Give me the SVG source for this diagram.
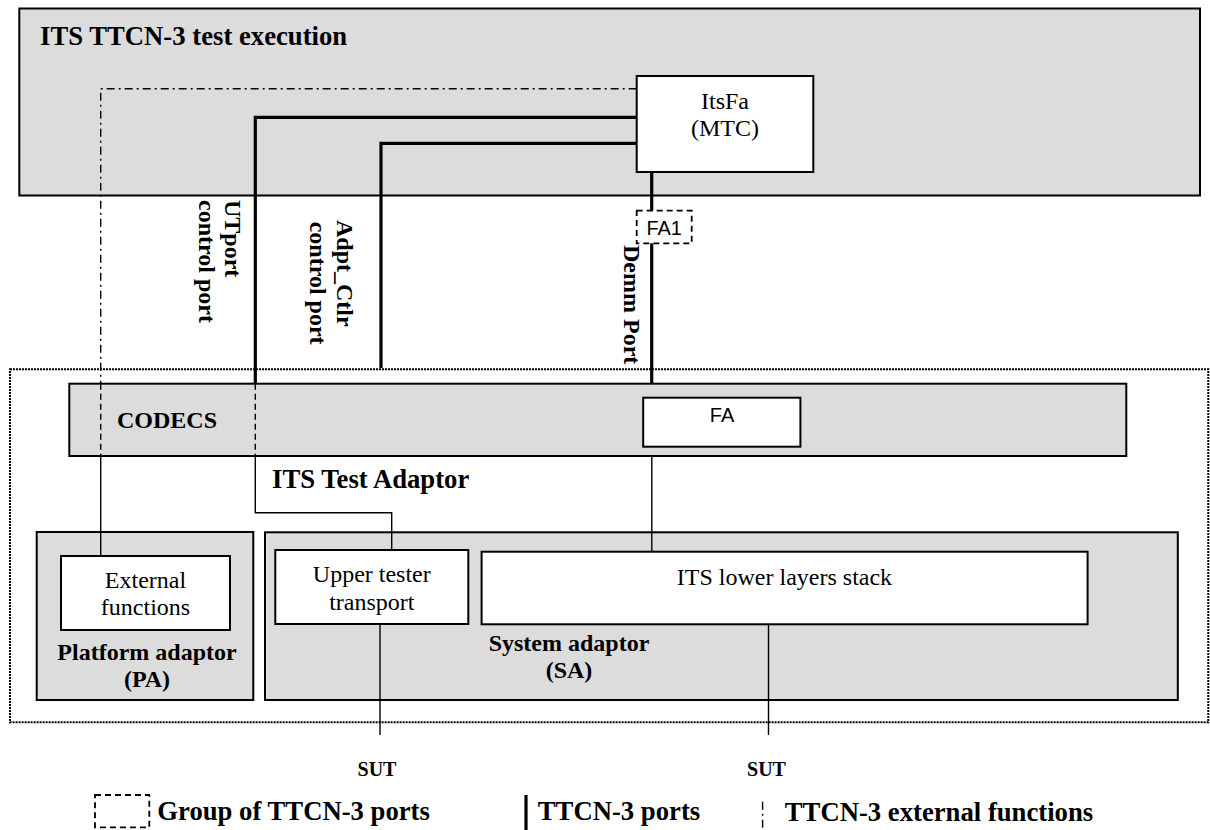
<svg xmlns="http://www.w3.org/2000/svg" width="1210" height="830" viewBox="0 0 1210 830">
<style>
.gray{fill:#dcdcdc;stroke:#000;stroke-width:2}
.white{fill:#fff;stroke:#000;stroke-width:2}
.dotted{fill:none;stroke:#000;stroke-width:2;stroke-dasharray:2 1}
.grp{fill:#fff;stroke:#000;stroke-width:1.8;stroke-dasharray:6 4}
.thick{fill:none;stroke:#000;stroke-width:3.2}
.thin{fill:none;stroke:#000;stroke-width:1.4}
.dashed{fill:none;stroke:#000;stroke-width:1.4;stroke-dasharray:6 4}
.dashdot{fill:none;stroke:#000;stroke-width:1.4;stroke-dasharray:8 4 2 4}
.serif{font-family:"Liberation Serif","Times New Roman",serif;fill:#000}
.b{font-weight:bold}
.h{font-size:26.7px}
.m{font-size:24px}
.sans{font-family:"Liberation Sans",Arial,sans-serif;font-size:20px;fill:#000}
</style>
<rect width="1210" height="830" fill="#fff"/>
<g id="test-execution">
<rect class="gray" x="19.3" y="8.5" width="1180.7" height="187"/>
<text class="serif b h" x="40" y="45">ITS TTCN-3 test execution</text>
</g>
<g id="itsfa">
<rect class="white" x="636.7" y="76" width="176.6" height="96"/>
<text class="serif m" x="725" y="109.3" text-anchor="middle">ItsFa</text>
<text class="serif m" x="725" y="136" text-anchor="middle">(MTC)</text>
</g>
<g id="test-adaptor">
<rect class="dotted" x="10" y="369.3" width="1198.3" height="353"/>
<text class="serif b h" x="272" y="487.7">ITS Test Adaptor</text>
</g>
<g id="codecs">
<rect class="gray" x="69.3" y="383.7" width="1057" height="72.3"/>
<text class="serif b m" x="117" y="428.3">CODECS</text>
</g>
<g id="fa">
<rect class="white" x="643.2" y="397.7" width="157.2" height="49"/>
<text class="sans" x="722" y="421.7" text-anchor="middle">FA</text>
</g>
<g id="platform-adaptor">
<rect class="gray" x="36.7" y="532" width="216.6" height="168"/>
<text class="serif b m" x="147" y="659.5" text-anchor="middle">Platform adaptor</text>
<text class="serif b m" x="147" y="687" text-anchor="middle">(PA)</text>
</g>
<g id="external-functions">
<rect class="white" x="61" y="556" width="169" height="74"/>
<text class="serif m" x="145.5" y="588.3" text-anchor="middle">External</text>
<text class="serif m" x="145.5" y="615" text-anchor="middle">functions</text>
</g>
<g id="system-adaptor">
<rect class="gray" x="265" y="532.3" width="912.8" height="167.7"/>
<text class="serif b m" x="569" y="651" text-anchor="middle">System adaptor</text>
<text class="serif b m" x="569" y="678" text-anchor="middle">(SA)</text>
</g>
<g id="upper-tester">
<rect class="white" x="275.3" y="550" width="193" height="74"/>
<text class="serif m" x="371.8" y="582" text-anchor="middle">Upper tester</text>
<text class="serif m" x="371.8" y="610" text-anchor="middle">transport</text>
</g>
<g id="lower-layers">
<rect class="white" x="481.6" y="551.7" width="606" height="72.6"/>
<text class="serif m" x="784.5" y="585" text-anchor="middle">ITS lower layers stack</text>
</g>
<g id="fa1">
<rect class="grp" x="636.7" y="210.7" width="55" height="32.6"/>
<text class="sans" x="664.2" y="235" text-anchor="middle">FA1</text>
</g>
<g id="connectors">
<path class="dashdot" d="M636.7 88.7H100.7V383.7"/>
<path class="dashed" d="M100.7 383.7V456"/>
<path class="thin" d="M100.7 456V556"/>
<path class="thick" d="M636.7 117.3H255.3V383.7"/>
<path class="dashed" d="M255.3 383.7V456"/>
<path class="thin" d="M255.3 456V512.7H391.7V550"/>
<path class="thick" d="M636.7 143.3H381V368"/>
<path class="thick" d="M651.7 172V210.7"/>
<path class="thick" d="M651.7 243.3V383.7"/>
<path class="thin" d="M651.8 456V551.7"/>
<path class="thin" d="M380 624V735"/>
<path class="thin" d="M768.5 624.3V735"/>
</g>
<g id="port-labels">
<text class="serif b m" transform="translate(224.5,200) rotate(90)">UTport</text>
<text class="serif b m" transform="translate(198.5,200) rotate(90)">control port</text>
<text class="serif b m" transform="translate(337,220) rotate(90)">Adpt_Ctlr</text>
<text class="serif b m" transform="translate(310,221.7) rotate(90)">control port</text>
<text class="serif b m" transform="translate(623.5,245) rotate(90)">Demm Port</text>
</g>
<g id="sut">
<text class="serif b" font-size="20" x="377" y="776" text-anchor="middle">SUT</text>
<text class="serif b" font-size="20" x="766.5" y="776" text-anchor="middle">SUT</text>
</g>
<g id="legend">
<rect class="grp" x="95" y="795" width="54.3" height="32.3"/>
<text class="serif b h" x="157.3" y="820">Group of TTCN-3 ports</text>
<path class="thick" d="M526 795V830"/>
<text class="serif b h" x="537.8" y="820">TTCN-3 ports</text>
<path class="dashdot" d="M762.6 801.7V830"/>
<text class="serif b h" x="784.8" y="821">TTCN-3 external functions</text>
</g>
</svg>
